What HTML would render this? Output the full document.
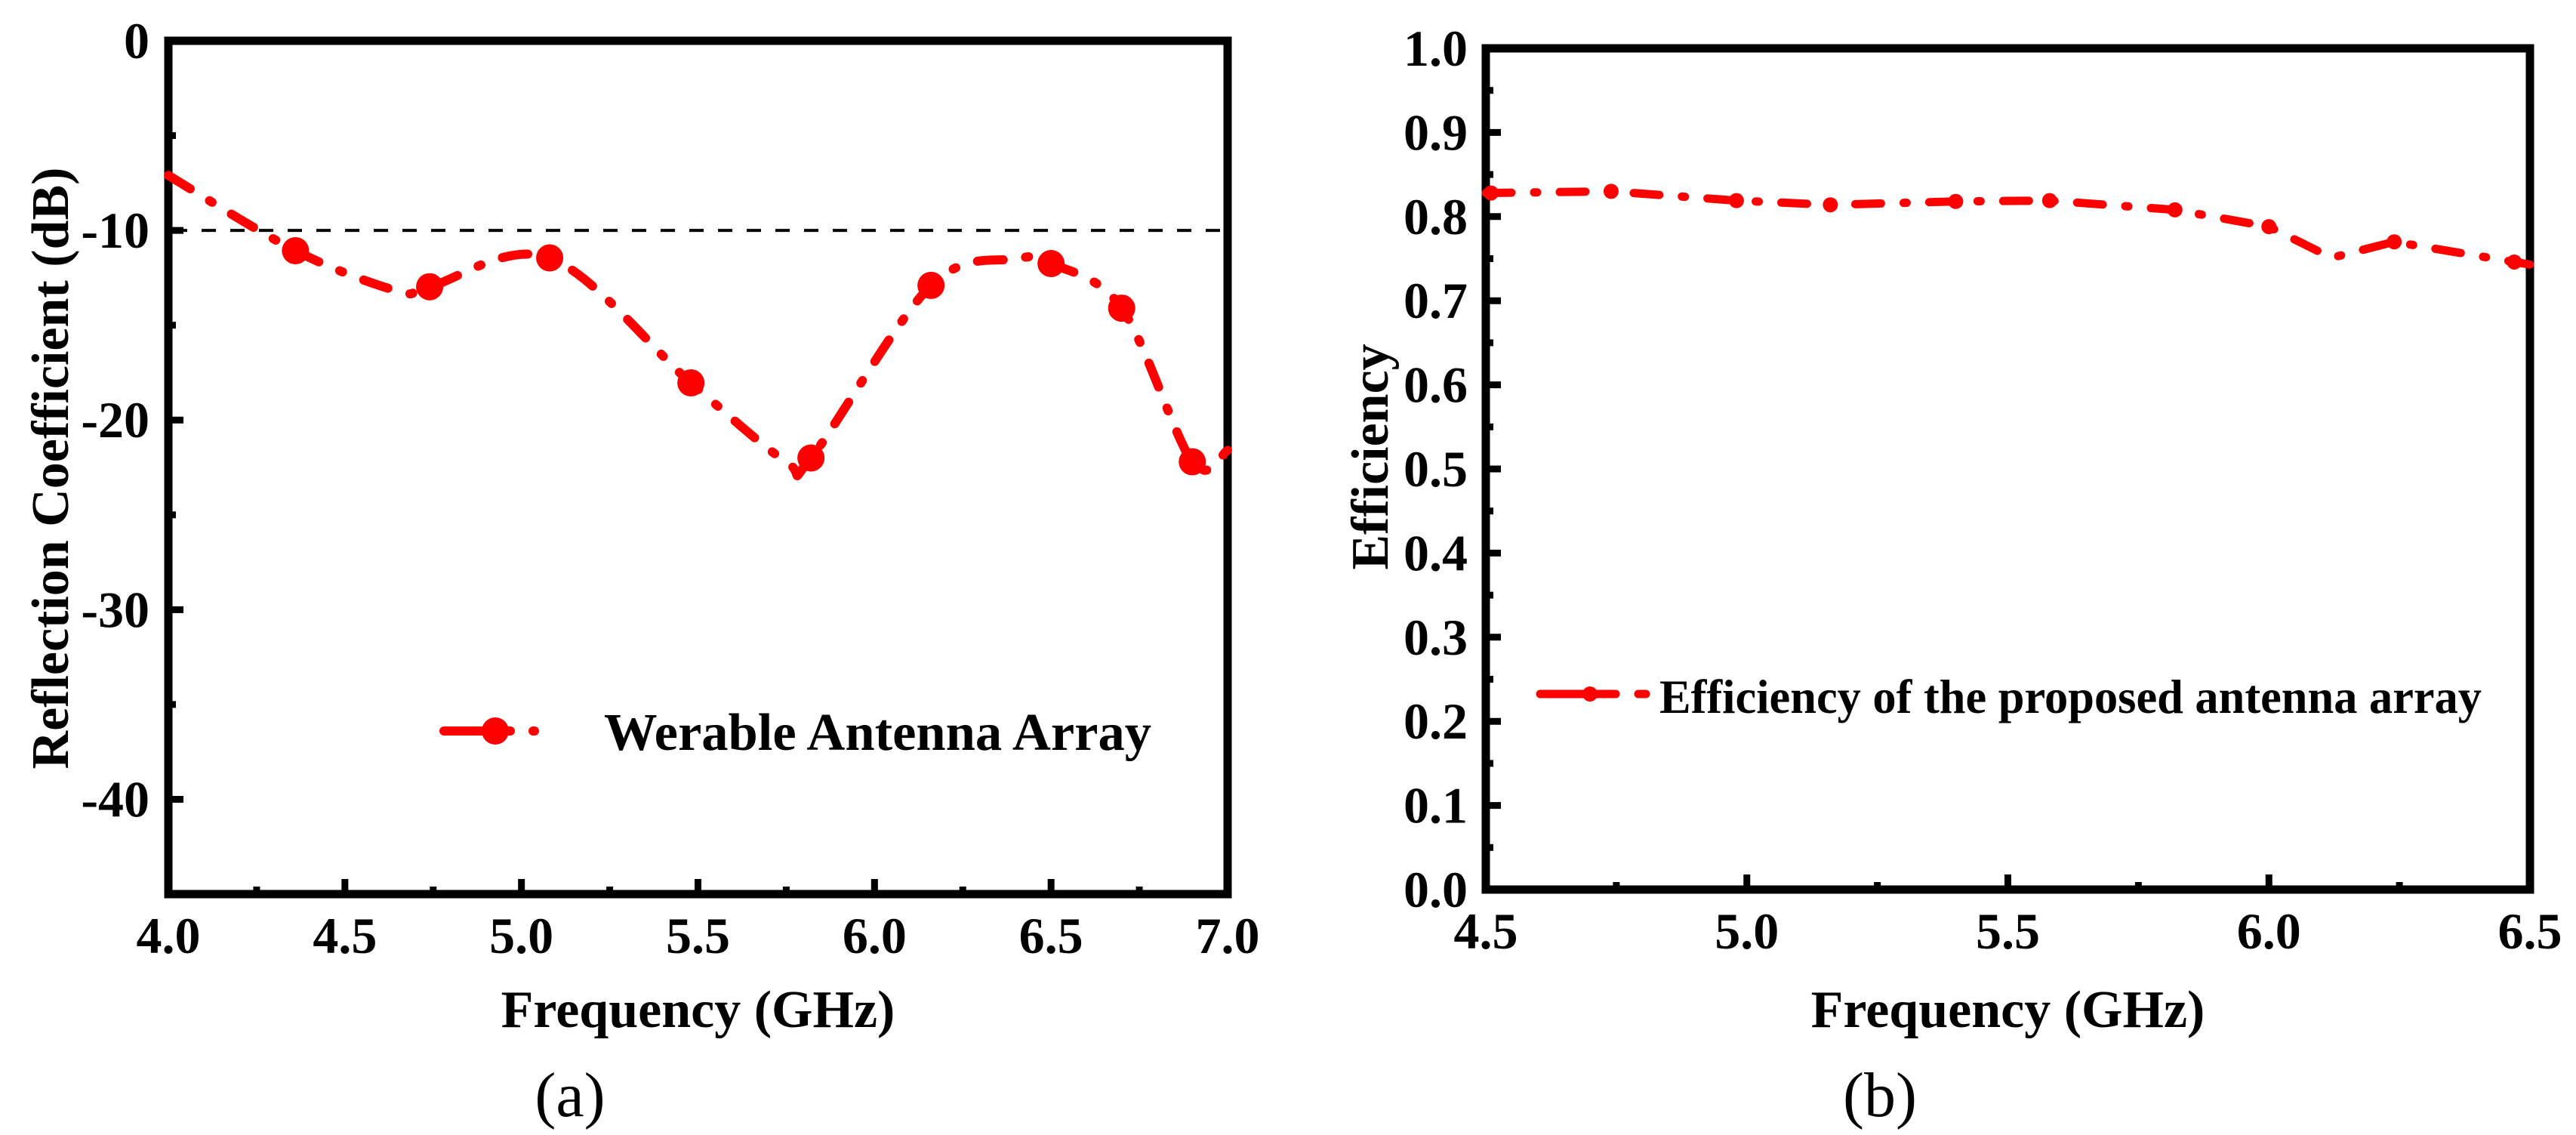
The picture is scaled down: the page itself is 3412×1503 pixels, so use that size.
<!DOCTYPE html>
<html><head><meta charset="utf-8">
<style>
html,body{margin:0;padding:0;background:#fff;}
svg{display:block;}
text{font-family:"Liberation Serif",serif;fill:#000;}
</style></head>
<body>
<svg id="fig" width="3412" height="1503" viewBox="0 0 3412 1503" xmlns="http://www.w3.org/2000/svg">
<g id="pa"></g>
<g id="pb"></g>
</svg>
<script>
// ---- Chart (a) data ----
const aCurveFreq = [4.0, 4.36, 4.65, 4.74, 5.08, 5.48, 5.75, 5.82, 6.16, 6.40, 6.50, 6.70, 6.90, 7.0];
const aCurveVal  = [-7.1, -11.07, -13.2, -12.97, -11.45, -18.04, -22.2, -22.0, -12.9, -11.5, -11.75, -14.1, -22.2, -21.6];
const aMarkFreq = [4.36, 4.74, 5.08, 5.48, 5.82, 6.16, 6.50, 6.70, 6.90];
const aMarkVal  = [-11.07, -12.97, -11.45, -18.04, -22.0, -12.9, -11.75, -14.1, -22.2];
const aXTicks = [4.0, 4.5, 5.0, 5.5, 6.0, 6.5, 7.0];
const aXTickLabels = ["4.0","4.5","5.0","5.5","6.0","6.5","7.0"];
const aYTicks = [0, -10, -20, -30, -40];
const aYTickLabels = ["0","-10","-20","-30","-40"];
const aRefLine = [-10];
// ---- Chart (b) data ----
const bCurveFreq = [4.5, 4.74, 4.98, 5.16, 5.40, 5.58, 5.82, 6.0, 6.12, 6.24, 6.47, 6.5];
const bCurveVal  = [0.828, 0.830, 0.819, 0.814, 0.818, 0.819, 0.808, 0.788, 0.751, 0.770, 0.746, 0.743];
const bMarkFreq = [4.51, 4.74, 4.98, 5.16, 5.40, 5.58, 5.82, 6.0, 6.24, 6.47];
const bMarkVal  = [0.828, 0.830, 0.819, 0.814, 0.818, 0.819, 0.808, 0.788, 0.770, 0.746];
const bXTicks = [4.5, 5.0, 5.5, 6.0, 6.5];
const bXTickLabels = ["4.5","5.0","5.5","6.0","6.5"];
const bYTicks = [0,0.1,0.2,0.3,0.4,0.5,0.6,0.7,0.8,0.9,1.0];
const bYTickLabels = ["0.0","0.1","0.2","0.3","0.4","0.5","0.6","0.7","0.8","0.9","1.0"];

const NS = "http://www.w3.org/2000/svg";
function mk(parent, tag, attrs){ const e=document.createElementNS(NS,tag); for(const k in attrs) e.setAttribute(k,attrs[k]); parent.appendChild(e); return e; }
function smoothPath(pts){
  let d = "M"+pts[0][0]+","+pts[0][1];
  for(let i=0;i<pts.length-1;i++){
    const p0=pts[i-1]||pts[i], p1=pts[i], p2=pts[i+1], p3=pts[i+2]||p2;
    const c1=[p1[0]+(p2[0]-p0[0])/6, p1[1]+(p2[1]-p0[1])/6];
    const c2=[p2[0]-(p3[0]-p1[0])/6, p2[1]-(p3[1]-p1[1])/6];
    d += " C"+c1[0]+","+c1[1]+" "+c2[0]+","+c2[1]+" "+p2[0]+","+p2[1];
  }
  return d;
}
function chart(g, cfg){
  const sx = v => cfg.x0 + (v-cfg.xmin)/(cfg.xmax-cfg.xmin)*(cfg.x1-cfg.x0);
  const sy = v => cfg.y1 - (v-cfg.ymin)/(cfg.ymax-cfg.ymin)*(cfg.y1-cfg.y0);
  const yt = mk(g,"g",{});
  
  
  for(let v=cfg.ymin; v<=cfg.ymax+1e-9; v+=cfg.yMinor){
    const major = Math.abs(Math.round(v/cfg.yMajor)*cfg.yMajor - v) < 1e-6;
    mk(yt,"line",{x1:cfg.x0,x2:cfg.x0+(major?20:10),y1:sy(v),y2:sy(v),stroke:"#000","stroke-width":9});
  }
  const xt = mk(g,"g",{});
  
  
  for(let v=cfg.xmin; v<=cfg.xmax+1e-9; v+=cfg.xMinor){
    const major = Math.abs(Math.round(v/cfg.xMajor)*cfg.xMajor - v) < 1e-6;
    mk(xt,"line",{x1:sx(v),x2:sx(v),y1:cfg.y1,y2:cfg.y1-(major?20:10),stroke:"#000","stroke-width":9});
  }
  const fr = mk(g,"rect",{x:cfg.x0,y:cfg.y0,width:cfg.x1-cfg.x0,height:cfg.y1-cfg.y0,fill:"none",stroke:"#000","stroke-width":11});
  
  
  cfg.xTicks.forEach((v,i)=>{
    const t = mk(g,"text",{x:sx(v),y:cfg.xLabelY,"text-anchor":"middle","font-size":68,"font-weight":"bold"});
    t.textContent = cfg.xTickLabels[i];
    
    
  });
  cfg.yTicks.forEach((v,i)=>{
    const t = mk(g,"text",{x:cfg.yLabelX,y:sy(v)+23,"text-anchor":"end","font-size":68,"font-weight":"bold"});
    t.textContent = cfg.yTickLabels[i];
    
    
  });
  (cfg.ref||[]).forEach(v=>{
    const l = mk(g,"line",{x1:cfg.x0+6,x2:cfg.x1-6,y1:sy(v),y2:sy(v),stroke:"#000","stroke-width":4,"stroke-dasharray":"19 19"});
    
    
  });
  const pts = cfg.cx.map((v,i)=>[sx(v),sy(cfg.cy[i])]);
  const d = cfg.smooth ? smoothPath(pts) : "M"+pts.map(p=>p.join(",")).join(" L");
  const p = mk(g,"path",{d:d,fill:"none",stroke:"#ff0000","stroke-width":cfg.lw,"stroke-linecap":"round","stroke-dasharray":cfg.dash});
  
  
  cfg.mx.forEach((v,i)=>{
    const c = mk(g,"circle",{cx:sx(v),cy:sy(cfg.my[i]),r:cfg.mr,fill:"#ff0000"});
    
    
  });
  const xtl = mk(g,"text",{x:(cfg.x0+cfg.x1)/2,y:cfg.xTitleY,"text-anchor":"middle","font-size":70,"font-weight":"bold"});
  xtl.textContent = "Frequency (GHz)";
  
  
  const ytl = mk(g,"text",{x:0,y:0,"text-anchor":"middle","font-size":70,"font-weight":"bold",transform:"translate("+cfg.yTitleX+","+cfg.yTitleY+") rotate(-90)"});
  ytl.textContent = cfg.yTitle;
  
  
  const lg = mk(g,"g",{});
  
  
  mk(lg,"path",{d:"M"+cfg.legX0+","+cfg.legY+" L"+cfg.legX1+","+cfg.legY,stroke:"#ff0000","stroke-width":cfg.lw,"stroke-linecap":"round","stroke-dasharray":cfg.legDash,fill:"none"});
  mk(lg,"circle",{cx:cfg.legM,cy:cfg.legY,r:cfg.mr,fill:"#ff0000"});
  const lt = mk(lg,"text",{x:cfg.legTX,y:cfg.legY+25,"font-size":cfg.legFS,"font-weight":"bold",textLength:cfg.legTW,lengthAdjust:"spacingAndGlyphs"});
  lt.textContent = cfg.legText;
  
  
  const cp = mk(g,"text",{x:cfg.capX,y:1478,"text-anchor":"middle","font-size":84});
  cp.textContent = cfg.cap;
  
  
}
chart(document.getElementById("pa"),{
  x0:223,x1:1626,y0:54,y1:1184,xmin:4,xmax:7,ymin:-45,ymax:0,
  xMajor:0.5,xMinor:0.25,yMajor:10,yMinor:5,
  xTicks:aXTicks,xTickLabels:aXTickLabels,yTicks:aYTicks,yTickLabels:aYTickLabels,
  xLabelY:1262,yLabelX:198,ref:aRefLine,
  cx:aCurveFreq,cy:aCurveVal,mx:aMarkFreq,my:aMarkVal,smooth:true,
  lw:12,dash:"34 30 4 30",mr:18,
  xTitleY:1360,yTitleX:90,yTitleY:620,yTitle:"Reflection Coefficient (dB)",
  legX0:588,legX1:730,legM:656,legY:968,legDash:"88 30 2 100",legTX:800,legTW:725,legFS:70,legText:"Werable Antenna Array",
  capX:755,cap:"(a)"
});
chart(document.getElementById("pb"),{
  x0:1968,x1:3351,y0:64,y1:1178,xmin:4.5,xmax:6.5,ymin:0,ymax:1,
  xMajor:0.5,xMinor:0.25,yMajor:0.1,yMinor:0.05,
  xTicks:bXTicks,xTickLabels:bXTickLabels,yTicks:bYTicks,yTickLabels:bYTickLabels,
  xLabelY:1256,yLabelX:1944,ref:[],
  cx:bCurveFreq,cy:bCurveVal,mx:bMarkFreq,my:bMarkVal,smooth:false,
  lw:11,dash:"34 30 4 30",mr:10,
  xTitleY:1360,yTitleX:1838,yTitleY:605,yTitle:"Efficiency",
  legX0:2040,legX1:2180,legM:2106,legY:919,legDash:"100 30 10 100",legTX:2198,legTW:1089,legFS:64,legText:"Efficiency of the proposed antenna array",
  capX:2490,cap:"(b)"
});
</script>
</body></html>
